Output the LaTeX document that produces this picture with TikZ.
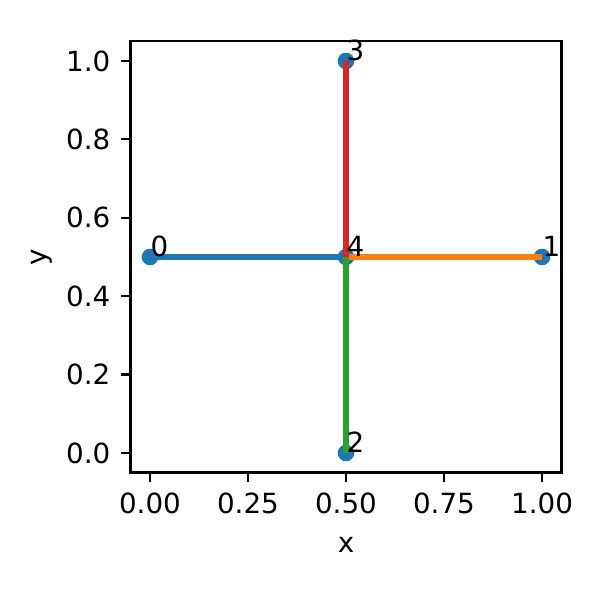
\documentclass[tikz,border=0pt]{standalone}
\usepackage{fontspec}
\setmainfont{DejaVu Sans}
\definecolor{tabblue}{HTML}{1F77B4}
\definecolor{taborange}{HTML}{FF7F0E}
\definecolor{tabgreen}{HTML}{2CA02C}
\definecolor{tabred}{HTML}{D62728}
\tikzset{
  spine/.style={line width=0.8pt},
  tick/.style={line width=0.8pt},
  edge/.style={line width=2pt},
  dot/.style={fill=tabblue},
  lbl/.style={font=\fontsize{10pt}{12pt}\selectfont,inner sep=0pt}
}
\begin{document}
\begin{tikzpicture}[x=141.12pt,y=141.12pt]
\useasboundingbox (-0.38265,-0.375) rectangle (1.14796,1.15561);
% points
\coordinate (p0) at (0,0.5);
\coordinate (p1) at (1,0.5);
\coordinate (p2) at (0.5,0);
\coordinate (p3) at (0.5,1);
\coordinate (p4) at (0.5,0.5);
\foreach \p in {p0,p1,p2,p3,p4} \fill[dot] (\p) circle (3pt);
% edges
\draw[edge,tabblue] (p0) -- (p4);
\draw[edge,taborange] (p4) -- (p1);
\draw[edge,tabgreen] (p4) -- (p2);
\draw[edge,tabred] (p4) -- (p3);
% point labels
\foreach \i in {0,...,4} \node[lbl,anchor=base west] (t\i) at (p\i) {\i};
% axes
\draw[spine] (-0.05,-0.05) rectangle (1.05,1.05);
\foreach \x/\t in {0/0.00,0.25/0.25,0.5/0.50,0.75/0.75,1/1.00} {
  \draw[tick] (\x,-0.05) -- ++(0,-3.5pt);
  \node[lbl,anchor=north] at ([yshift=-7pt]\x,-0.05) {\t};
}
\foreach \y/\t in {0/0.0,0.2/0.2,0.4/0.4,0.6/0.6,0.8/0.8,1/1.0} {
  \draw[tick] (-0.05,\y) -- ++(-3.5pt,0);
  \node[lbl,anchor=east] at ([xshift=-7pt]-0.05,\y) {\t};
}
\node[lbl] (xlab) at (0.5,-0.2347) {x};
\node[lbl,rotate=90] (ylab) at (-0.2755,0.5) {y};
\end{tikzpicture}
\end{document}
